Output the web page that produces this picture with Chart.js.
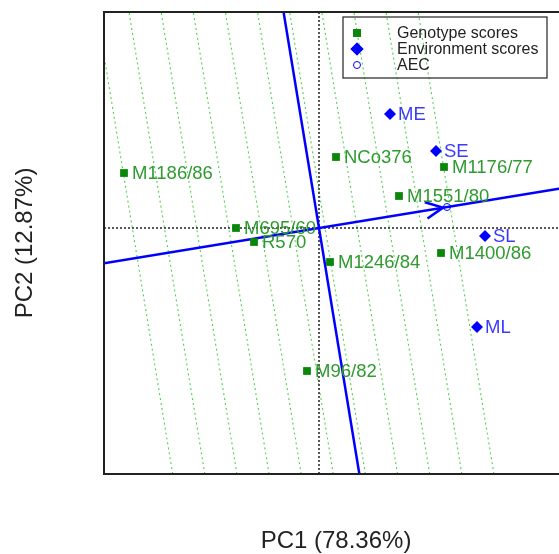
<!DOCTYPE html>
<html>
<head>
<meta charset="utf-8">
<script src="https://cdn.jsdelivr.net/npm/chart.js@4"></script>
<style>
  html, body { margin: 0; padding: 0; overflow: hidden; background: #fff; }
</style>
</head>
<body>
<canvas id="biplot" width="590" height="554"></canvas>
<script>
// genotype scores (PC1, PC2)
var genotypes = ["M1186/86", "M695/60", "R570", "NCo376", "M1176/77", "M1551/80", "M1246/84", "M1400/86", "M96/82"];
var genoPC1 = [-1.95, -0.83, -0.65, 0.17, 1.25, 0.80, 0.11, 1.22, -0.12];
var genoPC2 = [0.55, 0.00, -0.14, 0.71, 0.61, 0.32, -0.34, -0.25, -1.43];

// environment scores
var envs = ["ME", "SE", "SL", "ML"];
var envPC1 = [0.71, 1.17, 1.66, 1.58];
var envPC2 = [1.14, 0.77, -0.08, -0.99];

// average environment coordinate
var aec = [1.28, 0.21];

// dotted guides, positions along the AEC axis
var guideLevels = [-1.842, -1.525, -1.208, -0.891, -0.574, -0.257, 0.060, 0.377, 0.694, 1.011, 1.328];

var xRange = [-2.15, 2.49];
var yRange = [-2.46, 2.16];

var GREEN = "#0a870a", GREEN_TXT = "#2f9a2f", BLUE = "#0000ff", BLUE_TXT = "#3b3bff";
var FONT = "'Liberation Sans', Arial, sans-serif";

var slope = aec[1] / aec[0];
var len = Math.sqrt(aec[0] * aec[0] + aec[1] * aec[1]);
var ux = aec[0] / len, uy = aec[1] / len;

function pts(xs, ys) {
  return xs.map(function (x, i) { return { x: x, y: ys[i] }; });
}

var datasets = [
  {
    label: "Environment scores", data: pts(envPC1, envPC2), names: envs, txtColor: BLUE_TXT,
    showLine: false, pointStyle: "rectRot", pointRadius: 6, backgroundColor: BLUE, borderColor: BLUE, borderWidth: 0, order: 0
  },
  {
    label: "Genotype scores", data: pts(genoPC1, genoPC2), names: genotypes, txtColor: GREEN_TXT,
    showLine: false, pointStyle: "rect", pointRadius: 5.5, backgroundColor: GREEN, borderColor: GREEN, borderWidth: 0, order: 1
  },
  {
    label: "AEC", data: [{ x: aec[0], y: aec[1] }], showLine: false, pointStyle: "circle", pointRadius: 3.5,
    backgroundColor: "rgba(0,0,0,0)", borderColor: BLUE, borderWidth: 1, order: 2
  },
  {
    label: "abscissa", data: [{ x: xRange[0], y: xRange[0] * slope }, { x: xRange[1], y: xRange[1] * slope }],
    showLine: true, borderColor: BLUE, borderWidth: 2.5, pointRadius: 0, order: 3
  },
  {
    label: "ordinate", data: [{ x: -yRange[0] * slope, y: yRange[0] }, { x: -yRange[1] * slope, y: yRange[1] }],
    showLine: true, borderColor: BLUE, borderWidth: 2.5, pointRadius: 0, order: 3
  },
  {
    label: "zero x", data: [{ x: xRange[0], y: 0 }, { x: xRange[1], y: 0 }],
    showLine: true, borderColor: "#222", borderWidth: 1.5, borderDash: [2, 2], pointRadius: 0, order: 4
  },
  {
    label: "zero y", data: [{ x: 0, y: yRange[0] }, { x: 0, y: yRange[1] }],
    showLine: true, borderColor: "#222", borderWidth: 1.5, borderDash: [2, 2], pointRadius: 0, order: 4
  }
];

guideLevels.forEach(function (t) {
  var cx = t * ux, cy = t * uy;
  datasets.push({
    label: "guide", data: [
      { x: cx + (yRange[0] - cy) * -slope, y: yRange[0] },
      { x: cx + (yRange[1] - cy) * -slope, y: yRange[1] }
    ],
    showLine: true, borderColor: "#4fd24f", borderWidth: 1.1, borderDash: [2, 3], pointRadius: 0, order: 5
  });
});

var decorations = {
  id: "decorations",
  afterDatasetsDraw: function (chart) {
    var ctx = chart.ctx, a = chart.chartArea;
    var xs = chart.scales.x, ys = chart.scales.y;
    ctx.save();

    // arrow head on the AEC axis
    var tx = xs.getPixelForValue(aec[0]), ty = ys.getPixelForValue(aec[1]);
    var ang = Math.atan2(ty - ys.getPixelForValue(0), tx - xs.getPixelForValue(0));
    tx -= 4 * Math.cos(ang); ty -= 4 * Math.sin(ang);
    ctx.strokeStyle = BLUE; ctx.lineWidth = 2.5;
    ctx.beginPath();
    ctx.moveTo(tx - 19 * Math.cos(ang - 0.45), ty - 19 * Math.sin(ang - 0.45));
    ctx.lineTo(tx, ty);
    ctx.lineTo(tx - 19 * Math.cos(ang + 0.45), ty - 19 * Math.sin(ang + 0.45));
    ctx.stroke();

    // point labels
    ctx.font = "18.5px " + FONT;
    ctx.textBaseline = "middle";
    ctx.textAlign = "left";
    chart.data.datasets.forEach(function (ds, i) {
      if (!ds.names) return;
      var meta = chart.getDatasetMeta(i);
      ctx.fillStyle = ds.txtColor;
      meta.data.forEach(function (el, j) {
        ctx.fillText(ds.names[j], el.x + 8, el.y + 1);
      });
    });

    // frame
    ctx.strokeStyle = "#222"; ctx.lineWidth = 2;
    ctx.strokeRect(a.left, a.top, a.right - a.left, a.bottom - a.top);

    // legend (transparent box, guides show through)
    ctx.strokeStyle = "#222"; ctx.lineWidth = 1.2;
    ctx.strokeRect(343, 17, 204, 61);
    var rows = [
      ["Genotype scores", "rect", GREEN], ["Environment scores", "rectRot", BLUE], ["AEC", "circle", BLUE]
    ];
    ctx.font = "16px " + FONT;
    rows.forEach(function (r, k) {
      var y = 33 + k * 16;
      if (r[1] === "circle") {
        ctx.strokeStyle = r[2]; ctx.lineWidth = 1;
        ctx.beginPath(); ctx.arc(357, y, 3.5, 0, Math.PI * 2); ctx.stroke();
      } else {
        ctx.fillStyle = r[2];
        Chart.helpers.drawPoint(ctx, { pointStyle: r[1], radius: r[1] === "rect" ? 5.5 : 6.5, borderWidth: 0 }, 357, y);
        ctx.fill();
      }
      ctx.fillStyle = "#222";
      ctx.fillText(r[0], 397, y + 1);
    });

    // axis titles
    ctx.font = "24px " + FONT;
    ctx.fillStyle = "#222";
    ctx.textAlign = "center";
    ctx.fillText("PC1 (78.36%)", (a.left + a.right) / 2, 541);
    ctx.translate(25, (a.top + a.bottom) / 2);
    ctx.rotate(-Math.PI / 2);
    ctx.fillText("PC2 (12.87%)", 0, 0);
    ctx.restore();
  }
};

new Chart(document.getElementById("biplot"), {
  type: "scatter",
  data: { datasets: datasets },
  options: {
    responsive: false,
    animation: false,
    layout: { padding: { left: 104, top: 12, right: 22, bottom: 80 } },
    scales: {
      x: { type: "linear", min: xRange[0], max: xRange[1], display: false },
      y: { type: "linear", min: yRange[0], max: yRange[1], display: false }
    },
    plugins: { legend: { display: false }, tooltip: { enabled: false } }
  },
  plugins: [decorations]
});
</script>
</body>
</html>
